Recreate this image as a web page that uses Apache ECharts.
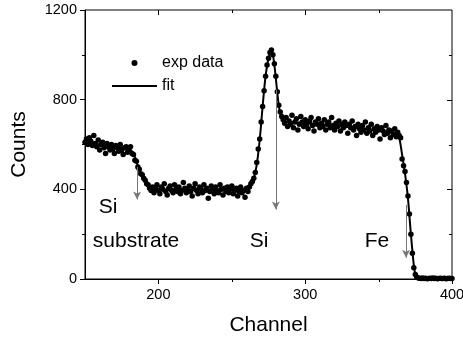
<!DOCTYPE html>
<html><head><meta charset="utf-8">
<script src="https://cdn.jsdelivr.net/npm/echarts@6/dist/echarts.min.js"></script>
<style>html,body{margin:0;padding:0;background:#fff}#c{width:463px;height:338px}</style>
</head><body><div id="c"></div>
<script>
// measured counts, one value per channel starting at channel 150
const startChannel = 150;
const expCounts = [
 610,625,600,630,615,595,640,605,590,620, 575,600,610,585,560,605,590,575,600,580,
 560,595,585,570,600,575,555,585,590,565, 575,590,560,555,530,525,500,490,470,465,
 450,440,425,420,405,395,410,385,405,420, 395,380,410,400,425,390,375,405,415,395,
 385,420,400,390,410,380,395,430,405,385, 400,415,390,370,405,425,395,380,410,400,
 385,420,395,405,360,390,415,400,380,410, 395,385,420,400,375,405,390,410,385,400,
 415,380,395,405,370,390,410,385,395,365, 405,390,410,425,435,450,475,520,580,625,
 700,770,840,905,955,985,1010,1022,1000,960, 905,835,775,745,725,710,695,720,680,705,
 690,730,675,700,715,665,690,725,700,680, 710,690,670,705,720,685,660,700,690,715,
 675,695,680,710,665,690,700,675,720,685, 665,695,680,705,660,690,675,700,685,650,
 690,675,705,665,680,640,690,670,655,685, 665,700,650,675,660,690,640,670,655,680,
 665,625,675,660,645,685,650,665,630,660, 645,670,635,655,640,630,535,505,480,430,
 370,290,200,115,50,20,8,4,3,2, 4,2,3,1,2,3,2,4,2,3,
 1,2,3,2,2,3,1,2,3,2,2
];
const expChannels = expCounts.map((v, i) => startChannel + i);
const fitChannels = [150,160,170,178,182,184,186,188,190,192,194,196,200,220,240,258,261,263,265,267,269,271,273,275,276,277,278,279,280,281,282,283,284,286,290,300,320,340,355,362,364,366,368,370,372,374,375,376,378,400];
const fitCounts   = [610,600,590,580,570,545,505,470,448,428,412,402,398,398,397,398,405,420,448,510,620,770,905,985,1008,1018,1000,955,895,830,775,740,720,705,700,695,685,670,658,648,630,555,470,360,200,60,22,8,3,2];
const xTickLabels = [200,300,400];
const xTicksMinor = [250,350];
const xTicksAll = [200,250,300,350];
const yTicksAll = [200,400,600,800,1000];
const arrows = [ // [channel, fromCounts, toCounts]
  [185.5, 500, 355],
  [280, 845, 310],
  [368.7, 330, 95]
];
const annotations = [
  {text:'Si', x:108, y:207},
  {text:'substrate', x:136, y:241},
  {text:'Si', x:259, y:241},
  {text:'Fe', x:377, y:241}
];

const FONT = 'Liberation Sans, Arial, sans-serif';
const X_MIN = 150, X_MAX = 400, Y_MIN = 0, Y_MAX = 1200;
const chart = echarts.init(document.getElementById('c'), null, {renderer:'canvas'});
const expData = expChannels.map((c, i) => [c, expCounts[i]]);
const fitData = fitChannels.map((c, i) => [c, fitCounts[i]]);
const tickStyle = {stroke:'#000', lineWidth:1};

// ticks on the mirrored (top / right) sides and minor ticks on the bottom, placed through the axis scales
function renderXTicks(params, api){
  const v = api.value(0);
  const x = Math.round(api.coord([v, Y_MIN])[0]) + 0.5;
  const yb = api.coord([v, Y_MIN])[1], yt = api.coord([v, Y_MAX])[1];
  const major = v % 100 === 0;
  const children = [{type:'line', shape:{x1:x, y1:yt, x2:x, y2:yt + (major ? 5 : 3)}, style:tickStyle}];
  if (!major) children.push({type:'line', shape:{x1:x, y1:yb, x2:x, y2:yb + 3}, style:tickStyle});
  return {type:'group', children};
}
function renderYTicks(params, api){
  const v = api.value(1);
  const p = api.coord([X_MAX, v]);
  const y = Math.round(p[1]) + 0.5;
  const major = v % 400 === 0;
  return {type:'line', shape:{x1:p[0], y1:y, x2:p[0] - (major ? 5 : 3), y2:y}, style:tickStyle};
}

chart.setOption({
  animation:false,
  grid:{left:85, right:11, top:10, bottom:59, outerBoundsMode:'none', containLabel:false,
    show:true, borderColor:'#000', borderWidth:1, backgroundColor:'transparent'},
  xAxis:{type:'value', min:X_MIN, max:X_MAX, splitLine:{show:false},
    axisLine:{show:true, onZero:false, lineStyle:{color:'#000', width:1}},
    axisTick:{show:true, inside:false, length:5, customValues:xTickLabels, lineStyle:{color:'#000', width:1}},
    axisLabel:{show:true, customValues:xTickLabels, margin:8, color:'#000', fontSize:14.5, fontFamily:FONT},
    name:'Channel', nameLocation:'middle', nameGap:36,
    nameTextStyle:{color:'#000', fontSize:21, fontFamily:FONT}},
  yAxis:{type:'value', min:Y_MIN, max:Y_MAX, interval:400, splitLine:{show:false},
    axisLine:{show:true, onZero:false, lineStyle:{color:'#000', width:1}},
    axisTick:{show:true, inside:false, length:5, lineStyle:{color:'#000', width:1}},
    minorTick:{show:true, splitNumber:2, length:3, lineStyle:{color:'#000', width:1}},
    axisLabel:{margin:8, color:'#000', fontSize:14.5, fontFamily:FONT, formatter: v => String(v)},
    name:'Counts', nameLocation:'middle', nameGap:55,
    nameTextStyle:{color:'#000', fontSize:21, fontFamily:FONT}},
  legend:{
    orient:'vertical', left:107, top:50, padding:5, itemWidth:45, itemHeight:6, itemGap:7,
    textStyle:{color:'#000', fontSize:16, fontFamily:FONT, lineHeight:16},
    data:[{name:'exp data', icon:'circle'}, {name:'fit', icon:'path://M0,0L45,0L45,2L0,2Z'}]
  },
  series:[
    {name:'exp data', type:'scatter', data:expData, symbol:'circle', symbolSize:5.5,
      itemStyle:{color:'#000', opacity:1}, z:3,
      markLine:{silent:true, symbol:['none','arrow'], symbolSize:[6,8], label:{show:false},
        lineStyle:{color:'#777', width:1, type:'solid'},
        data: arrows.map(a => [{coord:[a[0], a[1]]}, {coord:[a[0], a[2]]}])}},
    {name:'fit', type:'line', data:fitData, symbol:'none', smooth:0.3,
      lineStyle:{color:'#000', width:2}, itemStyle:{color:'#000'}, z:2},
    {type:'custom', silent:true, clip:false, z:5, renderItem:renderXTicks,
      data: xTicksAll.map(v => [v, Y_MIN])},
    {type:'custom', silent:true, clip:false, z:5, renderItem:renderYTicks,
      data: yTicksAll.map(v => [X_MAX, v])}
  ],
  graphic: annotations.map(a => ({type:'text', x:a.x, y:a.y,
    style:{text:a.text, fill:'#000', font:'21px ' + FONT, textAlign:'center', textVerticalAlign:'middle'}}))
});
</script></body></html>
